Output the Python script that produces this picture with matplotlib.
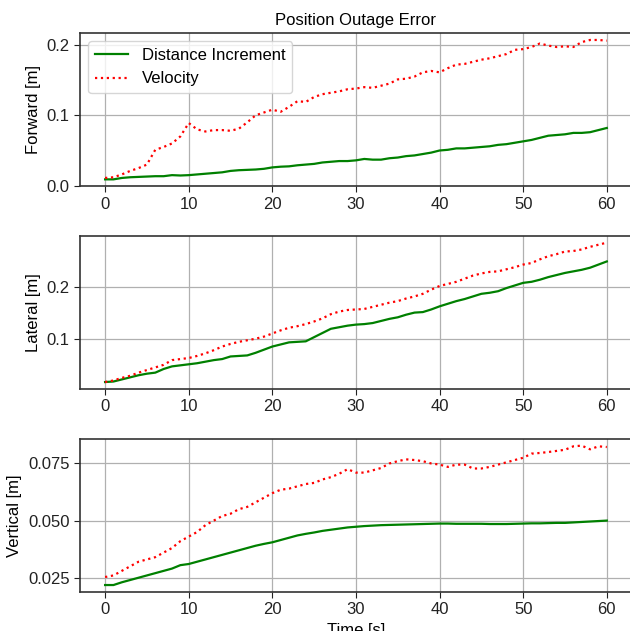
import numpy as np
import matplotlib
matplotlib.use("Agg")
import matplotlib.pyplot as plt

plt.rcParams['font.family'] = ['Liberation Sans', 'DejaVu Sans']
plt.rcParams['font.size'] = 12

# time axis, one sample per second
t = np.arange(0, 61)

# Forward error [m]
fwd_dist = [0.009, 0.009, 0.011, 0.012, 0.0125, 0.013, 0.0135, 0.0135, 0.015, 0.0145,
            0.015, 0.016, 0.017, 0.018, 0.019, 0.021, 0.022, 0.0225, 0.023, 0.024,
            0.026, 0.027, 0.0275, 0.029, 0.030, 0.031, 0.033, 0.034, 0.035, 0.035,
            0.036, 0.038, 0.037, 0.037, 0.039, 0.040, 0.042, 0.043, 0.045, 0.047,
            0.050, 0.051, 0.053, 0.053, 0.054, 0.055, 0.056, 0.058, 0.059, 0.061,
            0.063, 0.065, 0.068, 0.071, 0.072, 0.073, 0.075, 0.075, 0.076, 0.079,
            0.082]
fwd_vel = [0.011, 0.012, 0.016, 0.021, 0.025, 0.030, 0.051, 0.055, 0.060, 0.070,
           0.089, 0.080, 0.077, 0.079, 0.079, 0.078, 0.081, 0.090, 0.100, 0.104,
           0.108, 0.105, 0.112, 0.120, 0.119, 0.126, 0.130, 0.132, 0.134, 0.137,
           0.138, 0.140, 0.139, 0.142, 0.145, 0.151, 0.152, 0.155, 0.161, 0.163,
           0.161, 0.167, 0.172, 0.173, 0.176, 0.179, 0.181, 0.184, 0.187, 0.193,
           0.194, 0.197, 0.202, 0.199, 0.197, 0.198, 0.197, 0.204, 0.207, 0.207,
           0.206]

# Lateral error [m]
lat_dist = [0.017, 0.018, 0.022, 0.026, 0.030, 0.033, 0.035, 0.042, 0.047, 0.049,
            0.051, 0.053, 0.056, 0.059, 0.061, 0.066, 0.067, 0.068, 0.073, 0.079,
            0.085, 0.089, 0.093, 0.094, 0.095, 0.103, 0.111, 0.119, 0.122, 0.125,
            0.127, 0.128, 0.130, 0.134, 0.138, 0.141, 0.146, 0.150, 0.151, 0.156,
            0.162, 0.167, 0.172, 0.176, 0.181, 0.186, 0.188, 0.191, 0.197, 0.202,
            0.207, 0.209, 0.213, 0.218, 0.222, 0.226, 0.229, 0.232, 0.236, 0.242,
            0.248]
lat_vel = [0.017, 0.020, 0.025, 0.029, 0.035, 0.040, 0.045, 0.050, 0.059, 0.061,
           0.063, 0.067, 0.072, 0.078, 0.085, 0.090, 0.094, 0.097, 0.100, 0.104,
           0.110, 0.116, 0.121, 0.124, 0.128, 0.133, 0.139, 0.147, 0.152, 0.155,
           0.156, 0.157, 0.161, 0.165, 0.169, 0.172, 0.177, 0.181, 0.186, 0.194,
           0.201, 0.205, 0.209, 0.215, 0.221, 0.225, 0.228, 0.229, 0.233, 0.237,
           0.242, 0.245, 0.252, 0.258, 0.262, 0.267, 0.268, 0.271, 0.276, 0.280,
           0.284]

# Vertical error [m]
ver_dist = [0.0218, 0.0218, 0.023, 0.024, 0.025, 0.026, 0.027, 0.028, 0.029, 0.0305,
            0.031, 0.032, 0.033, 0.034, 0.035, 0.036, 0.037, 0.038, 0.039, 0.0398,
            0.0405, 0.0415, 0.0425, 0.0435, 0.0442, 0.0448, 0.0455, 0.046, 0.0465, 0.047,
            0.0473, 0.0476, 0.0478, 0.048, 0.0481, 0.0482, 0.0483, 0.0484, 0.0485, 0.0486,
            0.0487, 0.0487, 0.0486, 0.0486, 0.0486, 0.0486, 0.0485, 0.0485, 0.0485, 0.0486,
            0.0487, 0.0488, 0.0488, 0.0489, 0.049, 0.049, 0.0492, 0.0494, 0.0496, 0.0498,
            0.050]
ver_vel = [0.0253, 0.026, 0.028, 0.030, 0.032, 0.033, 0.034, 0.036, 0.038, 0.041,
           0.043, 0.045, 0.048, 0.050, 0.052, 0.053, 0.055, 0.056, 0.058, 0.060,
           0.062, 0.0635, 0.064, 0.065, 0.066, 0.0665, 0.068, 0.069, 0.0705, 0.0725,
           0.071, 0.071, 0.072, 0.073, 0.075, 0.076, 0.0768, 0.0765, 0.076, 0.075,
           0.0745, 0.0735, 0.0745, 0.0745, 0.0728, 0.0728, 0.0735, 0.0745, 0.0755, 0.0765,
           0.0775, 0.0793, 0.0796, 0.080, 0.0805, 0.081, 0.0825, 0.0828, 0.0812, 0.0825,
           0.0822]

panels = [("Forward [m]", fwd_dist, fwd_vel, [0.0, 0.1, 0.2], "%.1f"),
          ("Lateral [m]", lat_dist, lat_vel, [0.1, 0.2], "%.1f"),
          ("Vertical [m]", ver_dist, ver_vel, [0.025, 0.050, 0.075], "%.3f")]

fig = plt.figure(figsize=(6.3, 6.31), dpi=100)
bottoms = [0.7047, 0.3835, 0.0618]
axes = []
for (ylab, d, v, yt, fmt), b in zip(panels, bottoms):
    # right edge sits just past the figure border, as in the cropped original
    ax = fig.add_axes([0.127, b, 0.876, 0.243])
    ax.plot(t, d, color='green', linewidth=1.6, label='Distance Increment')
    ax.plot(t, v, color='red', linestyle=':', linewidth=1.6, label='Velocity')
    ax.set_xlim(-3, 63)
    ax.set_xticks([0, 10, 20, 30, 40, 50, 60])
    ax.set_yticks(yt)
    ax.set_yticklabels([fmt % y for y in yt])
    ax.set_ylabel(ylab)
    ax.grid(True, color='#b0b0b0', linewidth=0.9)
    for s in ax.spines.values():
        s.set_color('#333333')
        s.set_linewidth(1.2)
    ax.tick_params(colors='#222222', length=4)
    axes.append(ax)

axes[0].set_title('Position Outage Error', fontsize=12)
axes[0].legend(loc='upper left', fontsize=12)
axes[2].set_xlabel('Time [s]')

fig.savefig('out.png', dpi=100)
